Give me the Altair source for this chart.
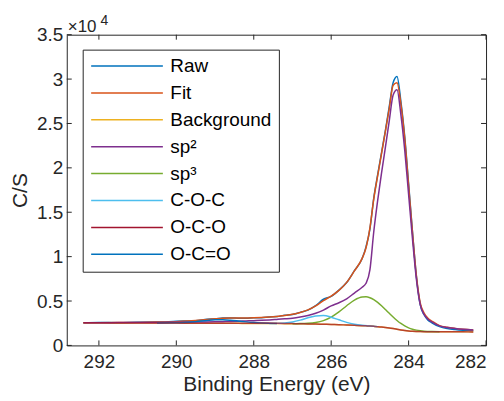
import altair as alt
import pandas as pd

# ---------------- data ----------------
energy = [292.4, 292.0, 291.5, 291.0, 290.5, 290.0, 289.5, 289.2, 289.0, 288.8,
          288.6, 288.4, 288.2, 288.0, 287.8, 287.6, 287.4, 287.2, 287.0, 286.8,
          286.6, 286.4, 286.2, 286.0, 285.8, 285.6, 285.4, 285.2, 285.1, 285.0,
          284.9, 284.8, 284.7, 284.6, 284.5, 284.4, 284.3, 284.2, 284.1, 284.0,
          283.9, 283.8, 283.7, 283.6, 283.5, 283.4, 283.2, 283.0, 282.8, 282.6, 282.33]

raw = [2540, 2575, 2565, 2610, 2625, 2720, 2790, 2950, 2990, 3080,
       3100, 3070, 3060, 3130, 3130, 3210, 3250, 3390, 3480, 3720,
       3980, 4480, 5200, 5530, 6230, 7080, 8420, 9780, 11100, 13100,
       16600, 19200, 21700, 24200, 26900, 29600, 30300, 27500, 23500, 18200,
       12800, 7800, 4600, 3450, 2850, 2550, 2120, 1900, 1780, 1700, 1650]

fit = [2550, 2560, 2575, 2595, 2630, 2680, 2800, 2930, 3000, 3060,
       3080, 3080, 3090, 3110, 3140, 3190, 3260, 3370, 3500, 3700,
       4000, 4450, 5050, 5550, 6200, 7100, 8400, 9800, 11000, 13200,
       16500, 19100, 21600, 24100, 26700, 29300, 29600, 27200, 23300, 18000,
       12700, 7900, 4800, 3650, 3050, 2750, 2230, 2040, 1920, 1830, 1745]

background = [2550, 2545, 2538, 2530, 2522, 2513, 2505, 2500, 2496, 2492,
              2488, 2484, 2480, 2475, 2470, 2465, 2460, 2453, 2445, 2435,
              2422, 2405, 2385, 2360, 2332, 2300, 2265, 2225, 2203, 2180,
              2150, 2115, 2075, 2025, 1965, 1895, 1820, 1745, 1680, 1630,
              1595, 1575, 1562, 1553, 1547, 1543, 1537, 1533, 1530, 1527, 1524]

sp2 = [2565, 2565, 2568, 2570, 2582, 2603, 2625, 2645, 2661, 2677,
       2698, 2724, 2755, 2790, 2830, 2875, 2930, 2993, 3065, 3200,
       3380, 3620, 3980, 4450, 4800, 5250, 5900, 6550, 7000, 8500,
       12800, 16300, 19400, 22300, 25300, 28200, 28800, 26000, 22000, 17000,
       12000, 7500, 4600, 3500, 2950, 2650, 2200, 2020, 1900, 1810, 1730]

oco = [2550, 2545, 2538, 2530, 2522, 2513, 2505, 2500, 2496, 2492,
       2488, 2484, 2490, 2500, 2515, 2520, 2505, 2478, 2455, 2435,
       2422, 2405, 2385, 2360, 2332, 2300, 2265, 2225, 2203, 2180,
       2150, 2115, 2075, 2025, 1965, 1895, 1820, 1745, 1680, 1630,
       1595, 1575, 1562, 1553, 1547, 1543, 1537, 1533, 1530, 1527, 1524]

sp3_energy = [287.0, 286.8, 286.6, 286.4, 286.2, 286.0, 285.8, 285.6, 285.4, 285.2,
              285.1, 285.0, 284.9, 284.8, 284.7, 284.6, 284.5, 284.4, 284.3, 284.2,
              284.1, 284.0, 283.9, 283.8, 283.7, 283.6, 283.4, 283.2]
sp3 = [2451, 2457, 2488, 2582, 2795, 3184, 3768, 4470, 5110, 5458,
       5473, 5367, 5149, 4841, 4465, 4046, 3615, 3195, 2809, 2471,
       2194, 1980, 1826, 1722, 1652, 1607, 1560, 1541]

coc_energy = [287.6, 287.4, 287.2, 287.0, 286.8, 286.6, 286.4, 286.2, 286.0, 285.8,
              285.6, 285.4, 285.2, 285.0, 284.8]
coc = [2471, 2483, 2529, 2644, 2851, 3115, 3324, 3358, 3181, 2884,
       2596, 2392, 2268, 2192, 2117]

ocdo_energy = [290.5, 290.0, 289.5, 289.2, 289.0, 288.8, 288.6, 288.4, 288.2, 288.0,
               287.8, 287.6, 287.4]
ocdo = [2524, 2541, 2677, 2813, 2878, 2890, 2841, 2751, 2652, 2569,
        2514, 2483, 2462]

series_names = ["Raw", "Fit", "Background", "sp²", "sp³", "C-O-C", "O-C-O", "O-C=O"]
series_colors = ["#0072BD", "#D95319", "#EDB120", "#7E2F8E", "#77AC30", "#4DBEEE", "#A2142F", "#0072BD"]

x_ticks = [292, 290, 288, 286, 284, 282]
y_ticks = [0, 5000, 10000, 15000, 20000, 25000, 30000, 35000]

# ---------------- chart ----------------
W, H = 421, 312
FONT = "Liberation Sans"
AX = "#262626"

xscale = alt.Scale(domain=[282, 292.83], reverse=True, nice=False, zero=False)
yscale = alt.Scale(domain=[0, 35000], nice=False, zero=False)

xaxis = alt.Axis(values=x_ticks, format="d", ticks=False, tickSize=0, domain=False, grid=False,
                 labelFontSize=19, labelFont=FONT, labelColor=AX, labelPadding=7,
                 titleFontSize=21, titleFont=FONT, titleColor=AX, titleFontWeight="normal",
                 titleBaseline="alphabetic", titleY=45)
yaxis = alt.Axis(values=y_ticks, labelExpr="datum.value / 10000", ticks=False, tickSize=0,
                 domain=False, grid=False,
                 labelFontSize=19, labelFont=FONT, labelColor=AX, labelPadding=4,
                 titleFontSize=21, titleFont=FONT, titleColor=AX, titleFontWeight="normal",
                 titleBaseline="alphabetic", titleX=-40, titleY=H / 2, titleAngle=-90)

X = alt.X("energy:Q", scale=xscale, axis=xaxis, title="Binding Energy (eV)")
Y = alt.Y("cps:Q", scale=yscale, axis=yaxis, title="C/S")

# legend symbol: a 72px horizontal line drawn from the left of a 16px symbol box
color = alt.Color("series:N",
                  scale=alt.Scale(domain=series_names, range=series_colors),
                  sort=series_names,
                  legend=alt.Legend(title=None, orient="none", legendX=16, legendY=15,
                                    symbolType="M-1,0H8", symbolSize=256, symbolStrokeWidth=1.5,
                                    labelFontSize=19, labelFont=FONT, labelColor="#000000",
                                    strokeColor=AX, fillColor="white", padding=7,
                                    rowPadding=7.0, labelOffset=62, labelLimit=300))

def series_df(name, xs, ys):
    return pd.DataFrame({"energy": xs, "cps": ys, "series": name})

layers = []
for name, xs, ys, op in [
    ("Raw", energy, raw, 1.0),
    ("Fit", energy, fit, 1.0),
    ("Background", energy, background, 1.0),
    ("sp²", energy, sp2, 1.0),
    ("sp³", sp3_energy, sp3, 1.0),
    ("C-O-C", coc_energy, coc, 1.0),
    ("O-C=O", ocdo_energy, ocdo, 1.0),
    ("O-C-O", energy, oco, 0.7),
]:
    layers.append(
        alt.Chart(series_df(name, xs, ys))
        .mark_line(interpolate="monotone", strokeWidth=1.5, strokeOpacity=op)
        .encode(x=X, y=Y, color=color)
    )

xt = pd.DataFrame({"energy": x_ticks})
yt = pd.DataFrame({"cps": y_ticks})
tick_style = dict(color=AX, strokeWidth=1)
layers.append(alt.Chart(xt).mark_rule(**tick_style).encode(x=X, y=alt.value(H), y2=alt.value(H - 5)))
layers.append(alt.Chart(xt).mark_rule(**tick_style).encode(x=X, y=alt.value(0), y2=alt.value(5)))
layers.append(alt.Chart(yt).mark_rule(**tick_style).encode(y=Y, x=alt.value(0), x2=alt.value(5)))
layers.append(alt.Chart(yt).mark_rule(**tick_style).encode(y=Y, x=alt.value(W - 5), x2=alt.value(W)))

exp_df = pd.DataFrame({"t": ["×10"]})
layers.append(alt.Chart(exp_df).mark_text(align="left", baseline="alphabetic", fontSize=17,
                                          font=FONT, color=AX)
              .encode(x=alt.value(1), y=alt.value(-3), text=alt.value("×10")))
layers.append(alt.Chart(exp_df).mark_text(align="left", baseline="alphabetic", fontSize=14,
                                          font=FONT, color=AX)
              .encode(x=alt.value(34), y=alt.value(-10), text=alt.value("4")))

chart = (
    alt.layer(*layers)
    .properties(width=W, height=H, autosize=alt.AutoSizeParams(type="none"),
                padding={"left": 59, "top": 26, "right": 10, "bottom": 52},
                background="white")
    .configure_view(stroke=AX, strokeWidth=1)
)

chart.save("out.html", embed_options={"renderer": "svg", "actions": False})
